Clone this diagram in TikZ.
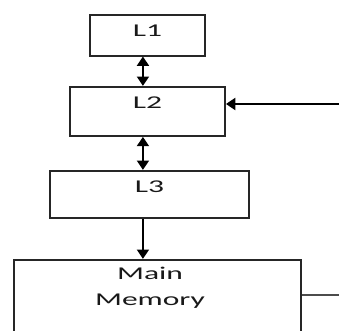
\documentclass[tikz,border=0pt]{standalone}
\usepackage{fontspec}
\setmainfont{Carlito}
\usepackage{graphicx}
\usetikzlibrary{arrows.meta, positioning}

% wide lettering as in the scanned figure
\newcommand{\widetext}[1]{\scalebox{1.75}[1]{#1}}

\begin{document}
\begin{tikzpicture}[
                level/.style={rectangle, draw=black!85, line width=1.5pt, fill=white, inner ysep=0pt, inner xsep=0pt, text height=16.5pt, font={\fontsize{13.5pt}{19.5pt}\selectfont}, text=black!90},
                line/.style={draw, line width=1.4pt, -{Triangle[width=9pt, length=7pt]}},
                dline/.style={draw, line width=1.4pt, {Triangle[width=9pt, length=7pt]}-{Triangle[width=9pt, length=7pt]}},
                ext/.style={draw, black!70, line width=1.1pt}
            ]
                \useasboundingbox (0,0) rectangle (254.25pt,-248.25pt);
                \clip (0,0) rectangle (254.25pt,-248.25pt);

                % Place nodes
                \node [level, minimum width=86.25pt, text depth=13.9pt] (L1) at (110.6pt,-10.5pt) [anchor=north] {\widetext{L1}};
                \node [level, minimum width=116.25pt, text depth=20.25pt, below=22pt of L1] (L2) {\widetext{L2}};
                \node [level, minimum width=149.25pt, text depth=18.75pt, below=24.75pt of L2, xshift=1.5pt] (L3) {\widetext{L3}};
                \node [level, minimum width=215.25pt, text height=34.5pt, text depth=90pt, align=center, below=30pt of L3, xshift=6pt] (P_mem) {\widetext{Main}\hspace*{11.25pt}\\\widetext{Memory}\hspace*{11.25pt}};

                % outside ends of the side lines
                \coordinate (in_right) at (254.25pt,-78pt);
                \coordinate (out_right) at (254.25pt,-221.25pt);

                % Draw edges
                \path [dline] ([xshift=-3.4pt]L1.south) -- ([xshift=-3.4pt]L2.north);
                \path [dline] ([xshift=-3.4pt]L2.south) -- ([xshift=-3.4pt]L2.south |- L3.north);
                \path [line] ([xshift=-3.4pt]L2.south |- L3.south) -- ([xshift=-3.4pt]L2.south |- P_mem.north);
                \path [line] (in_right) -- (in_right -| L2.east);
                \path [ext] (out_right -| P_mem.east) -- (out_right);
            \end{tikzpicture}
\end{document}
